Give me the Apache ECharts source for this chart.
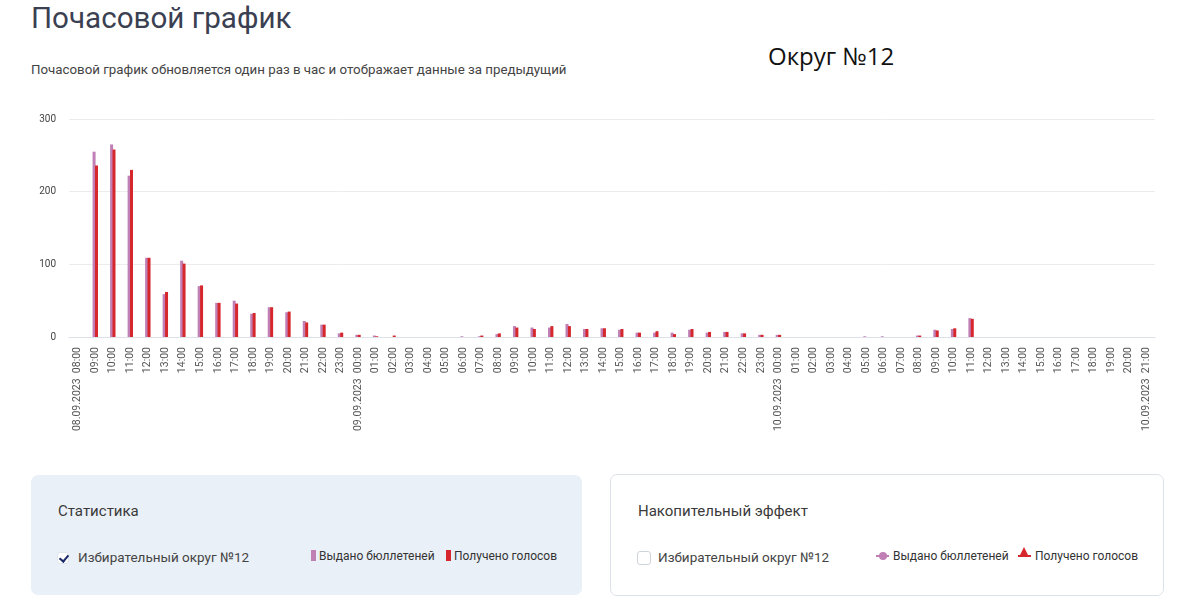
<!DOCTYPE html>
<html>
<head>
  <meta charset="utf-8">
  <title>Почасовой график</title>
  <script src="https://cdn.jsdelivr.net/npm/echarts@6/dist/echarts.min.js"></script>
  <style>
    body { margin: 0; background: #fff; font-family: Roboto, "Noto Sans", sans-serif; }
    .page { position: relative; width: 1180px; height: 608px; overflow: hidden; }
    .title { position: absolute; left: 31px; top: 1px; font-size: 29.6px; color: #3b3f52; }
    .subtitle { position: absolute; left: 31px; top: 62px; font-size: 13.3px; color: #444; }
    .okrug { position: absolute; left: 768px; top: 39px; font-family: "Open Sans", sans-serif; font-size: 24px; color: #111; }
    #chart { position: absolute; left: 0; top: 100px; width: 1180px; height: 350px; }
    .panel { position: absolute; top: 475px; height: 120px; border-radius: 7px; box-sizing: border-box; }
    .panel.left { left: 31px; width: 551px; background: #eaf0f7; }
    .panel.right { left: 610px; width: 554px; background: #fff; border: 1px solid #dde2ea; top: 474px; height: 122px; }
    .panel .head { position: absolute; left: 27px; top: 27px; font-size: 15px; color: #3a3a3a; }
    .panel .cb { position: absolute; left: 26px; top: 77px; width: 12px; height: 12px; border-radius: 3px; box-sizing: border-box; }
    .left .cb { background: #fff; border: 1px solid #dfe5ee; }
    .left .cb:after { content: ""; position: absolute; left: 3px; top: 0px; width: 4px; height: 7px; border: solid #1c2a6b; border-width: 0 2px 2px 0; transform: rotate(40deg); }
    .right .cb { border: 1px solid #cfd4dc; width: 14px; height: 14px; }
    .panel .lbl { position: absolute; left: 47px; top: 74px; font-size: 13.5px; color: #444; }
    .lg { position: absolute; top: 74px; font-size: 12px; color: #333; white-space: nowrap; }
    .sq { display: inline-block; width: 5px; height: 11px; vertical-align: -1px; margin-right: 3px; }
    .ln { display: inline-block; position: relative; width: 13px; height: 2px; vertical-align: 3px; margin-right: 4px; }
  </style>
</head>
<body>
<div class="page">
  <div class="title">Почасовой график</div>
  <div class="subtitle">Почасовой график обновляется один раз в час и отображает данные за предыдущий</div>
  <div class="okrug">Округ №12</div>
  <div id="chart"></div>

  <div class="panel left">
    <div class="head">Статистика</div>
    <div class="cb"></div>
    <div class="lbl">Избирательный округ №12</div>
    <div class="lg" style="left:280px"><span class="sq" style="background:#c07fb5"></span>Выдано бюллетеней</div>
    <div class="lg" style="left:415px"><span class="sq" style="background:#d6282c"></span>Получено голосов</div>
  </div>

  <div class="panel right">
    <div class="head">Накопительный эффект</div>
    <div class="cb" style="top:76px"></div>
    <div class="lbl">Избирательный округ №12</div>
    <div class="lg" style="left:265px"><span class="ln" style="background:#c07fb5"><span style="position:absolute;left:3px;top:-3px;width:8px;height:8px;border-radius:50%;background:#c07fb5"></span></span>Выдано бюллетеней</div>
    <div class="lg" style="left:407px"><span class="ln" style="background:#d6282c"><span style="position:absolute;left:1px;top:-8px;width:0;height:0;border-left:5.5px solid transparent;border-right:5.5px solid transparent;border-bottom:10px solid #d6282c"></span></span>Получено голосов</div>
  </div>
</div>

<script>
  // часы по порядку, 08.09.2023 08:00 .. 10.09.2023 21:00
  var hours = [
    '08.09.2023  08:00', '09:00', '10:00', '11:00', '12:00', '13:00', '14:00', '15:00',
    '16:00', '17:00', '18:00', '19:00', '20:00', '21:00', '22:00', '23:00',
    '09.09.2023  00:00', '01:00', '02:00', '03:00', '04:00', '05:00', '06:00', '07:00',
    '08:00', '09:00', '10:00', '11:00', '12:00', '13:00', '14:00', '15:00',
    '16:00', '17:00', '18:00', '19:00', '20:00', '21:00', '22:00', '23:00',
    '10.09.2023  00:00', '01:00', '02:00', '03:00', '04:00', '05:00', '06:00', '07:00',
    '08:00', '09:00', '10:00', '11:00', '12:00', '13:00', '14:00', '15:00',
    '16:00', '17:00', '18:00', '19:00', '20:00', '10.09.2023  21:00'
  ];
  // Выдано бюллетеней
  var issued = [
    0, 255, 265, 222, 109, 59, 105, 70, 47, 50, 32, 41, 34, 22, 17, 5,
    3, 2, 0, 0, 0, 0, 1, 1, 4, 15, 13, 13, 18, 11, 12, 10,
    6, 6, 6, 10, 6, 7, 5, 3, 3, 0, 0, 0, 0, 1, 1, 0,
    2, 10, 11, 26, 0, 0, 0, 0, 0, 0, 0, 0, 0, 0
  ];
  // Получено голосов
  var received = [
    0, 236, 258, 230, 109, 62, 101, 71, 47, 46, 33, 41, 35, 20, 17, 6,
    3, 1, 2, 0, 0, 0, 0, 2, 5, 13, 11, 15, 15, 11, 12, 11,
    6, 8, 4, 11, 7, 7, 5, 3, 3, 0, 0, 0, 0, 0, 0, 0,
    2, 9, 12, 25, 0, 0, 0, 0, 0, 0, 0, 0, 0, 0
  ];
  var yTicks = [0, 100, 200, 300];

  var chart = echarts.init(document.getElementById('chart'));
  chart.setOption({
    animation: false,
    grid: {left: 69, right: 25, top: 19, height: 218},
    xAxis: {
      type: 'category',
      data: hours,
      axisLine: {lineStyle: {color: '#dde2ea'}},
      axisTick: {show: false},
      axisLabel: {
        interval: 0, rotate: 90, fontSize: 10.5, color: '#555',
        fontFamily: 'Roboto', margin: 10
      }
    },
    yAxis: {
      type: 'value',
      min: yTicks[0], max: yTicks[yTicks.length - 1], interval: 100,
      axisLabel: {fontSize: 10, color: '#444', fontFamily: 'Roboto', margin: 13},
      splitLine: {lineStyle: {color: '#ececec'}}
    },
    series: [
      {name: 'Выдано бюллетеней', type: 'bar', data: issued, barWidth: 3, barGap: '-20%',
        itemStyle: {color: '#c07fb5'}},
      {name: 'Получено голосов', type: 'bar', data: received, barWidth: 3,
        itemStyle: {color: '#d6282c'}}
    ]
  });
</script>
</body>
</html>
